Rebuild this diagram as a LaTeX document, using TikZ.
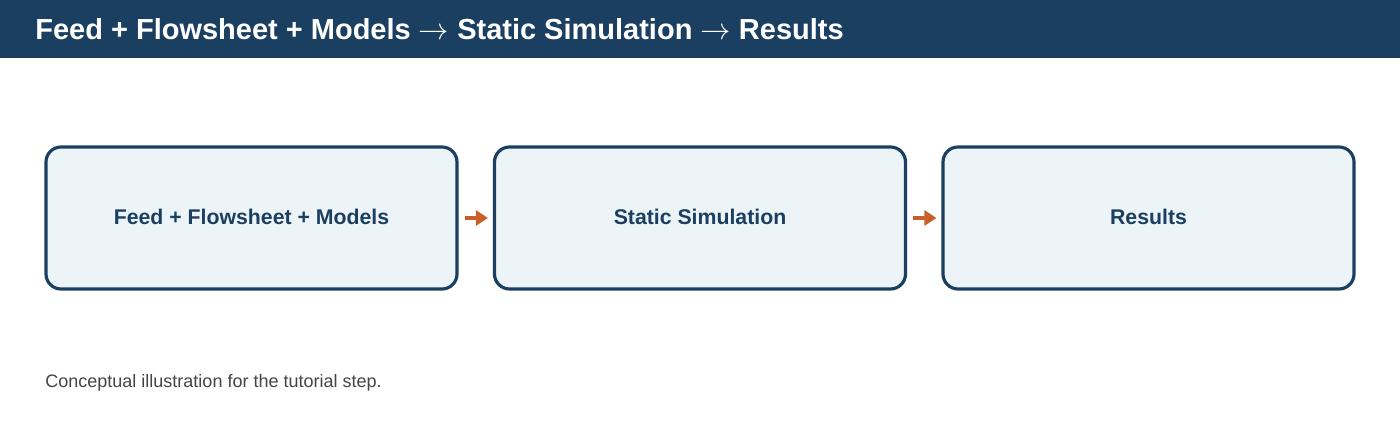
\documentclass[tikz,border=0pt]{standalone}
\usepackage{fontspec}
\setmainfont{Liberation Sans}
\usepackage{tikz}
\usetikzlibrary{arrows.meta}
\usetikzlibrary{positioning}
\definecolor{headerblue}{HTML}{1B3F61}
\definecolor{boxfill}{HTML}{EDF4F8}
\definecolor{flowcolor}{HTML}{C8602A}
\definecolor{notegray}{HTML}{444444}
\tikzset{
	stepbox/.style={draw=headerblue, fill=boxfill, line width=1.8pt, rounded corners=0.3cm,
		minimum width=8.22cm, minimum height=2.84cm, text=headerblue,
		font=\fontsize{12.1}{14}\selectfont\bfseries},
	flow/.style={draw=flowcolor, line width=2.3pt, -{Triangle[length=0.24cm, width=0.3cm]},
		shorten <=0.12cm, shorten >=0.1cm},
}

\begin{document}
\begin{tikzpicture}
\useasboundingbox (0cm,0cm) rectangle (28cm,8.6cm);

% header bar
\fill[headerblue] (0cm,7.44cm) rectangle (28cm,8.6cm);
\node[anchor=base west, text=white, font=\fontsize{16.5}{19}\selectfont\bfseries, inner sep=0pt]
	(title) at (0.7cm,7.8cm) {Feed + Flowsheet + Models $\rightarrow$ Static Simulation $\rightarrow$ Results};

\node[stepbox] (feed) at (5.03cm,4.24cm) {\raisebox{0.04cm}{Feed + Flowsheet + Models}};
\node[stepbox] (sim) at (14cm,4.24cm) {\raisebox{0.04cm}{Static Simulation}};
\node[stepbox] (res) at (22.97cm,4.24cm) {\raisebox{0.04cm}{Results}};

\draw[flow] (feed.east) -- (sim.west);
\draw[flow] (sim.east) -- (res.west);

\node[anchor=base west, text=notegray, font=\fontsize{10.25}{12}\selectfont, inner sep=0pt]
	(note) at (0.9cm,0.86cm) {Conceptual illustration for the tutorial step.};
\end{tikzpicture}
\end{document}
